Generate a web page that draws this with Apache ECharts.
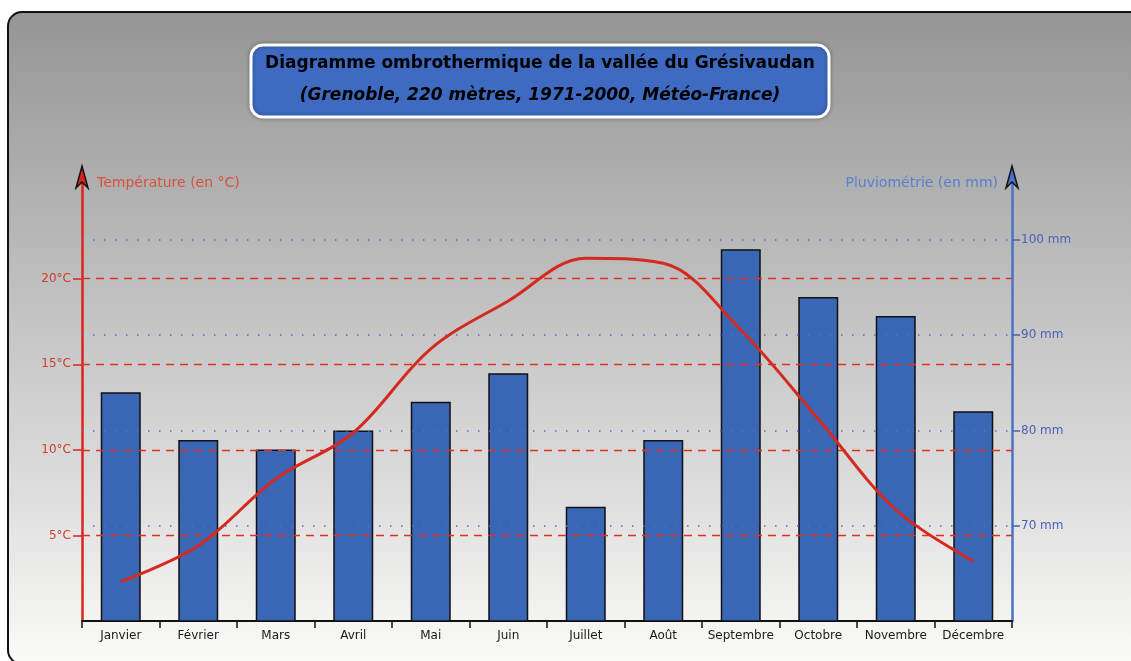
<!DOCTYPE html>
<html>
<head>
<meta charset="utf-8">
<script src="https://cdn.jsdelivr.net/npm/echarts@6/dist/echarts.min.js"></script>
<style>html,body{margin:0;padding:0;background:#fff;}#c{width:1131px;height:661px;}</style>
</head>
<body>
<div id="c"></div>
<script>
const months = ['Janvier','Février','Mars','Avril','Mai','Juin','Juillet','Août','Septembre','Octobre','Novembre','Décembre'];
const rainfall = [84, 79, 78, 80, 83, 86, 72, 79, 99, 94, 92, 82];
const temperature = [2.3, 4.4, 8.3, 11.0, 15.9, 18.7, 21.2, 20.9, 17.0, 11.8, 6.5, 3.5];
const tempTicks = [5, 10, 15, 20];
const rainTicks = [70, 80, 90, 100];

const chart = echarts.init(document.getElementById('c'));
const FONT = 'DejaVu Sans';
const gridL = 82, gridR = 1012, gridT = 176, gridB = 621;

chart.setOption({
  animation: false,
  graphic: [
    { type: 'rect', z: -10, shape: { x: 8, y: 12, width: 1150, height: 652, r: 14 },
      style: { fill: new echarts.graphic.LinearGradient(0, 0, 0, 1, [
        { offset: 0, color: '#959595' }, { offset: 0.45, color: '#c2c2c2' },
        { offset: 0.75, color: '#e0dfdf' }, { offset: 1, color: '#fbfbf9' }]),
        stroke: '#111', lineWidth: 2 } },
    { type: 'rect', z: 10, shape: { x: 251, y: 45, width: 578, height: 72, r: 12 },
      style: { fill: '#3e6bc1', stroke: '#fff', lineWidth: 3, shadowBlur: 4, shadowColor: 'rgba(0,0,0,0.3)' } },
    { type: 'text', z: 11, x: 540, y: 64,
      style: { text: 'Diagramme ombrothermique de la vallée du Grésivaudan', fill: '#000',
        font: 'bold 17px ' + FONT, align: 'center', verticalAlign: 'middle' } },
    { type: 'text', z: 11, x: 540, y: 96,
      style: { text: '(Grenoble, 220 mètres, 1971-2000, Météo-France)', fill: '#000',
        font: 'italic bold 17px ' + FONT, align: 'center', verticalAlign: 'middle' } },
    { type: 'polygon', z: 20, shape: { points: [[gridL, 166], [gridL + 6, 188], [gridL, 182], [gridL - 6, 188]] },
      style: { fill: '#d8261c', stroke: '#111', lineWidth: 1.5 } },
    { type: 'polygon', z: 20, shape: { points: [[gridR, 166], [gridR + 6, 188], [gridR, 182], [gridR - 6, 188]] },
      style: { fill: '#4a72c8', stroke: '#111', lineWidth: 1.5 } },
    { type: 'text', z: 11, x: 97, y: 183,
      style: { text: 'Température (en °C)', fill: '#d9503f', font: '14px ' + FONT, align: 'left', verticalAlign: 'middle' } },
    { type: 'text', z: 11, x: 998, y: 183,
      style: { text: 'Pluviométrie (en mm)', fill: '#5b7fd0', font: '14px ' + FONT, align: 'right', verticalAlign: 'middle' } }
  ],
  grid: { left: gridL, right: 1131 - gridR, top: gridT, bottom: 661 - gridB },
  xAxis: {
    type: 'category', data: months, boundaryGap: true,
    axisLine: { lineStyle: { color: '#111', width: 2 } },
    axisTick: { show: true, interval: 0, alignWithLabel: false, length: 7, lineStyle: { color: '#111', width: 1.5 } },
    axisLabel: { interval: 0, color: '#1a1a1a', fontFamily: FONT, fontSize: 12, margin: 9 },
    splitLine: { show: false }
  },
  yAxis: [
    { type: 'value', min: 0, max: 26, interval: 5, position: 'left',
      axisLine: { show: true, lineStyle: { color: '#d8261c', width: 2.5 } },
      axisTick: { show: true, length: 9, customValues: tempTicks, lineStyle: { color: '#d8261c', width: 1.5 } },
      axisLabel: { customValues: tempTicks, formatter: '{value}°C', color: '#c9402f', fontFamily: FONT, fontSize: 12, margin: 11 },
      splitLine: { show: false } },
    { type: 'value', min: 60, max: 106.7, interval: 10, position: 'right',
      axisLine: { show: true, lineStyle: { color: '#4a72c8', width: 2.5 } },
      axisTick: { show: true, length: 8, customValues: rainTicks, lineStyle: { color: '#4a62b8', width: 1.5 } },
      axisLabel: { customValues: rainTicks, formatter: '{value} mm', color: '#4a62b8', fontFamily: FONT, fontSize: 12, margin: 9 },
      splitLine: { show: false } }
  ],
  series: [
    { type: 'line', name: 'guides-t', yAxisIndex: 0, data: [], z: 1, silent: true,
      markLine: { silent: true, symbol: 'none', label: { show: false },
        lineStyle: { color: '#e0301f', type: [8, 6], width: 1.3 },
        data: tempTicks.map(v => ({ yAxis: v })) } },
    { type: 'line', name: 'guides-r', yAxisIndex: 1, data: [], z: 1, silent: true,
      markLine: { silent: true, symbol: 'none', label: { show: false },
        lineStyle: { color: '#5a6ccc', type: [1.5, 9.5], width: 1.6 },
        data: rainTicks.map(v => ({ yAxis: v })) } },
    { type: 'bar', name: 'Pluviométrie', yAxisIndex: 1, data: rainfall, barWidth: 40, z: 3,
      itemStyle: { color: '#3a66b6', borderColor: '#111', borderWidth: 1.5 } },
    { type: 'line', name: 'Température', yAxisIndex: 0, data: temperature, smooth: 0.35, z: 5,
      symbol: 'none', lineStyle: { color: '#d42a1f', width: 3 } }
  ]
});
</script>
</body>
</html>
